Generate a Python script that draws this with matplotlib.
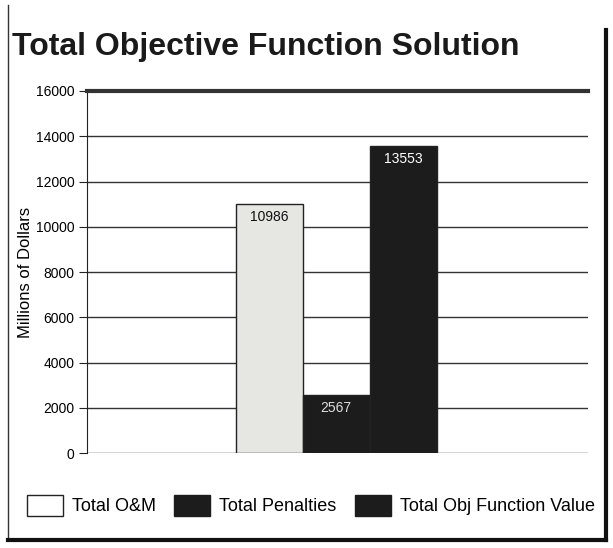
import numpy as np
import matplotlib.pyplot as plt
from matplotlib.patches import Patch
from matplotlib.lines import Line2D

# data
series = ["Total O&M", "Total Penalties", "Total Obj Function Value"]
values = [10986, 2567, 13553]
bar_colors = ["#e6e6e3", "#1c1c1c", "#1c1c1c"]
label_colors = ["#111111", "#dddddd", "#ffffff"]
yticks = [0, 2000, 4000, 6000, 8000, 10000, 12000, 14000, 16000]

plt.rcParams['font.family'] = ['Liberation Sans', 'DejaVu Sans']

fig = plt.figure(figsize=(6.13, 5.48), dpi=100)
ax = fig.add_axes([0.142, 0.173, 0.817, 0.661])

x = np.arange(len(values))
bars = ax.bar(x, values, width=1.0, color=bar_colors, edgecolor="#222222", linewidth=1.0, zorder=3)

for b, v, c in zip(bars, values, label_colors):
    ax.text(b.get_x() + b.get_width() / 2, v - 250, str(v), ha="center", va="top",
            fontsize=10, color=c, zorder=4)

ax.set_xlim(-2.72, 4.76)
ax.set_ylim(0, 16000)
ax.set_yticks(yticks)
ax.set_yticklabels([str(t) for t in yticks], fontsize=10)
ax.set_xticks([])
ax.yaxis.grid(True, color="#333333", linewidth=1.0, zorder=0)
for s in ["right", "bottom"]:
    ax.spines[s].set_visible(False)
ax.spines["top"].set_linewidth(3)
ax.spines["top"].set_color("#333333")
ax.spines["left"].set_color("#222222")
ax.tick_params(axis="y", direction="out", length=6, color="#222222", pad=3)
ax.set_ylabel("Millions of Dollars", fontsize=12, labelpad=2)

fig.text(0.02, 0.915, "Total Objective Function Solution", fontsize=23, fontweight="bold",
         ha="left", va="center", color="#1a1a1a")

handles = [Patch(facecolor="white", edgecolor="#222222"),
           Patch(facecolor="#1c1c1c", edgecolor="#1c1c1c"),
           Patch(facecolor="#1c1c1c", edgecolor="#1c1c1c")]
fig.legend(handles, series, loc="center", bbox_to_anchor=(0.507, 0.078), ncol=3,
           frameon=False, fontsize=13, handlelength=2.0, handleheight=1.4,
           handletextpad=0.5, columnspacing=1.0)

# figure frame
fig.add_artist(Line2D([0.013, 0.013], [0.015, 0.99], color="#333333", linewidth=1.0))
fig.add_artist(Line2D([0.013, 0.988], [0.015, 0.015], color="#111111", linewidth=3.0))
fig.add_artist(Line2D([0.988, 0.988], [0.015, 0.945], color="#111111", linewidth=3.0))

plt.savefig("out.png", dpi=100)
